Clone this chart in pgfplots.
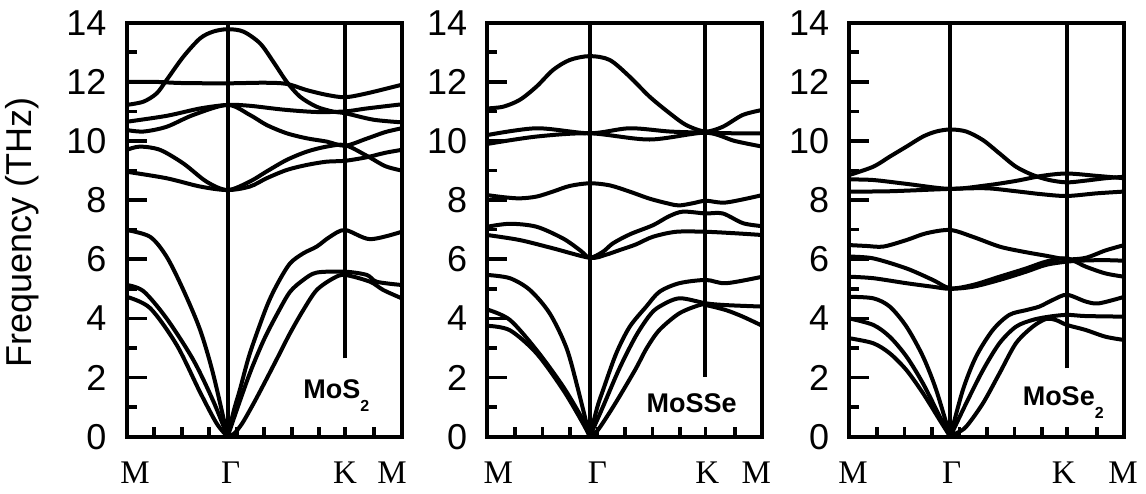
\documentclass[border=0pt]{standalone}
\usepackage{fontspec}
\setmainfont{Liberation Sans}
\newfontfamily\seriffont{Liberation Serif}
\usepackage{pgfplots}
\pgfplotsset{compat=1.18}
\pgfplotsset{
  bandax/.style={
    width=275pt, height=414pt, scale only axis, anchor=south west,
    xmin=0, xmax=1, ymin=0, ymax=14, no marks,
    axis line style={line width=4.2pt},
    tick align=inside, tick pos=left,
    ytick={0,2,...,14}, minor ytick={1,3,...,13},
    major tick length=20pt, minor tick length=10pt,
    every tick/.style={black, line width=3.6pt},
    major x tick style={draw=none, opacity=0},
    /pgf/number format/assume math mode=true,
    yticklabel style={font=\fontsize{36}{36}\selectfont, anchor=east, inner sep=0pt, xshift=-20pt},
    xticklabel style={font=\seriffont\fontsize{33}{33}\selectfont, anchor=base, inner sep=0pt, yshift=-46.6pt},
    xticklabels={M,Γ,K,M},
    every axis plot post/.append style={black, solid, line width=4pt, smooth, line join=round},
  },
}
\tikzset{lab/.style={anchor=base west, inner sep=0pt, font=\bfseries\fontsize{27}{27}\selectfont}}
\newcommand{\subtwo}{\raisebox{-13pt}{\fontsize{16}{16}\selectfont 2}}
\begin{document}
\begin{tikzpicture}
\path[use as bounding box] (0,0) rectangle (1146pt,493pt);
% ---------------- MoS2 ----------------
\begin{axis}[bandax, at={(126.7pt,56.3pt)},
  xtick={0.03,0.378,0.794,0.965},
  minor xtick={0.1,0.2,0.3,0.4,0.5,0.6,0.7,0.794,0.9},
  ylabel={Frequency (THz)},
  ylabel style={font=\fontsize{36}{36}\selectfont, at={(axis description cs:-0.381,0.494)}, anchor=center}]
\addplot coordinates {(0.367,0) (0.367,14)};
\addplot coordinates {(0.794,2.65) (0.794,14)};
% optical
\addplot coordinates {(0,11.22) (0.061,11.33) (0.109,11.61) (0.145,12.06) (0.206,12.85) (0.267,13.47) (0.315,13.70) (0.367,13.78) (0.424,13.70) (0.485,13.30) (0.533,12.68) (0.582,12.0) (0.63,11.5) (0.69,11.16) (0.752,10.99) (0.794,10.94) (0.897,10.72) (1,10.63)};
\addplot coordinates {(0,12.0) (0.1,12.0) (0.2,11.96) (0.367,11.95) (0.5,11.97) (0.582,11.93) (0.655,11.72) (0.727,11.56) (0.794,11.48) (0.873,11.61) (1,11.9)};
\addplot coordinates {(0,10.65) (0.145,10.85) (0.267,11.1) (0.367,11.22) (0.448,11.19) (0.57,11.06) (0.69,10.98) (0.794,11.0) (0.873,11.1) (1,11.24)};
\addplot coordinates {(0,10.37) (0.061,10.32) (0.145,10.48) (0.242,10.88) (0.367,11.22) (0.448,10.88) (0.509,10.54) (0.582,10.26) (0.655,10.09) (0.727,9.98) (0.794,9.84) (0.873,10.08) (0.94,10.3) (1,10.43)};
\addplot coordinates {(0,9.7) (0.048,9.81) (0.121,9.7) (0.206,9.24) (0.291,8.62) (0.367,8.34) (0.448,8.63) (0.509,8.97) (0.582,9.36) (0.655,9.64) (0.727,9.81) (0.794,9.86) (0.873,9.5) (0.94,9.15) (1,9.0)};
\addplot coordinates {(0,8.96) (0.145,8.74) (0.267,8.46) (0.367,8.34) (0.448,8.46) (0.509,8.74) (0.582,9.02) (0.655,9.19) (0.727,9.3) (0.794,9.33) (0.873,9.45) (0.94,9.6) (1,9.7)};
% acoustic
\addplot coordinates {(0,6.99) (0.085,6.76) (0.145,6.09) (0.206,4.96) (0.267,3.61) (0.315,2.1) (0.367,0)};
\addplot coordinates {(0.367,0) (0.39,0.9) (0.412,1.6) (0.448,2.82) (0.509,4.4) (0.55,5.2) (0.594,5.86) (0.642,6.2) (0.691,6.43) (0.739,6.76) (0.794,6.99) (0.885,6.68) (1,6.93)};
\addplot coordinates {(0,5.13) (0.061,4.92) (0.145,4.0) (0.242,2.6) (0.315,1.2) (0.367,0)};
\addplot coordinates {(0.367,0) (0.40,0.9) (0.45,2.2) (0.5,3.3) (0.55,4.2) (0.594,4.9) (0.642,5.3) (0.691,5.55) (0.794,5.58) (0.873,5.47) (0.909,5.24) (1,5.13)};
\addplot coordinates {(0,4.73) (0.085,4.35) (0.182,3.1) (0.267,1.5) (0.327,0.45) (0.367,0)};
\addplot coordinates {(0.367,0) (0.39,0.1) (0.42,0.45) (0.46,1.1) (0.5,1.8) (0.55,2.7) (0.594,3.5) (0.642,4.28) (0.691,4.96) (0.752,5.36) (0.794,5.47) (0.885,5.24) (0.933,4.96) (1,4.68)};
\node[lab] at (axis cs:0.642,1.30) {MoS\subtwo};
\end{axis}
% ---------------- MoSSe ----------------
\begin{axis}[bandax, at={(487.3pt,56.3pt)},
  xtick={0.04,0.4,0.8,0.978},
  minor xtick={0.1,0.2,0.3,0.4,0.5,0.6,0.7,0.793,0.9}]
\addplot coordinates {(0.3725,0) (0.3725,14)};
\addplot coordinates {(0.793,2.03) (0.793,14)};
% optical
\addplot coordinates {(0,11.1) (0.058,11.16) (0.118,11.39) (0.179,11.84) (0.239,12.4) (0.3,12.74) (0.3725,12.87) (0.445,12.74) (0.517,12.18) (0.59,11.5) (0.663,10.94) (0.723,10.54) (0.793,10.32) (0.856,10.48) (0.929,10.88) (1,11.05)};
\addplot coordinates {(0,10.2) (0.179,10.43) (0.3725,10.26) (0.517,10.43) (0.663,10.32) (0.793,10.28) (0.9,10.26) (1,10.26)};
\addplot coordinates {(0,9.9) (0.179,10.15) (0.3725,10.26) (0.59,10.05) (0.793,10.28) (0.9,10.0) (1,9.81)};
\addplot coordinates {(0,8.17) (0.058,8.1) (0.118,8.06) (0.179,8.12) (0.239,8.29) (0.3,8.48) (0.3725,8.57) (0.445,8.5) (0.517,8.29) (0.59,8.05) (0.66,7.88) (0.698,7.82) (0.75,7.9) (0.795,7.98) (0.868,7.92) (1,8.17)};
\addplot coordinates {(0,7.1) (0.082,7.2) (0.179,7.1) (0.276,6.7) (0.338,6.3) (0.3725,6.05) (0.42,6.25) (0.457,6.54) (0.52,6.85) (0.602,7.15) (0.66,7.45) (0.711,7.61) (0.793,7.55) (0.856,7.55) (0.93,7.22) (1,7.12)};
\addplot coordinates {(0,6.82) (0.118,6.65) (0.239,6.37) (0.3725,6.05) (0.43,6.15) (0.481,6.31) (0.54,6.5) (0.602,6.76) (0.687,6.93) (0.793,6.93) (0.9,6.88) (1,6.82)};
% acoustic
\addplot coordinates {(0,5.47) (0.082,5.36) (0.155,4.96) (0.227,4.17) (0.288,3.0) (0.33,1.6) (0.3725,0)};
\addplot coordinates {(0.3725,0) (0.40,1.0) (0.421,1.58) (0.469,2.82) (0.518,3.72) (0.578,4.4) (0.626,4.9) (0.698,5.19) (0.795,5.3) (0.868,5.19) (1,5.41)};
\addplot coordinates {(0,4.3) (0.082,3.95) (0.179,2.93) (0.276,1.69) (0.348,0.56) (0.3725,0)};
\addplot coordinates {(0.3725,0) (0.42,1.0) (0.48,2.3) (0.54,3.4) (0.59,4.1) (0.626,4.4) (0.698,4.68) (0.795,4.51) (0.868,4.45) (1,4.4)};
\addplot coordinates {(0,3.75) (0.082,3.6) (0.179,2.82) (0.276,1.58) (0.348,0.45) (0.3725,0)};
\addplot coordinates {(0.3725,0) (0.40,0.2) (0.44,0.75) (0.48,1.35) (0.54,2.3) (0.58,3.0) (0.626,3.61) (0.698,4.17) (0.771,4.45) (0.795,4.45) (0.868,4.28) (0.929,4.06) (1,3.75)};
\node[lab] at (axis cs:0.579,0.81) {MoSSe};
\end{axis}
% ---------------- MoSe2 ----------------
\begin{axis}[bandax, at={(849.3pt,56.3pt)},
  xtick={0.014,0.372,0.78,0.995},
  minor xtick={0.1,0.2,0.3,0.4,0.5,0.6,0.7,0.791,0.9}]
\addplot coordinates {(0.367,0) (0.367,14)};
\addplot coordinates {(0.791,2.31) (0.791,14)};
% optical
\addplot coordinates {(0,8.85) (0.087,9.13) (0.147,9.47) (0.208,9.81) (0.268,10.15) (0.316,10.32) (0.367,10.39) (0.425,10.32) (0.486,10.03) (0.546,9.58) (0.606,9.13) (0.667,8.85) (0.727,8.68) (0.791,8.6) (0.86,8.66) (0.932,8.74) (1,8.79)};
\addplot coordinates {(0,8.7) (0.087,8.68) (0.208,8.55) (0.367,8.38) (0.5,8.5) (0.606,8.65) (0.7,8.82) (0.791,8.9) (0.9,8.82) (1,8.74)};
\addplot coordinates {(0,8.29) (0.147,8.3) (0.367,8.38) (0.5,8.4) (0.606,8.3) (0.7,8.2) (0.791,8.14) (0.9,8.23) (1,8.29)};
\addplot coordinates {(0,6.48) (0.063,6.45) (0.124,6.43) (0.208,6.65) (0.28,6.88) (0.367,6.99) (0.449,6.76) (0.546,6.43) (0.63,6.26) (0.715,6.12) (0.791,6.0) (0.86,6.05) (0.932,6.3) (1,6.48)};
\addplot coordinates {(0,6.09) (0.087,6.03) (0.208,5.69) (0.304,5.3) (0.367,5.02) (0.449,5.13) (0.546,5.41) (0.643,5.69) (0.715,5.92) (0.791,6.03) (0.86,5.75) (0.932,5.52) (1,5.41)};
\addplot coordinates {(0,5.41) (0.087,5.36) (0.208,5.19) (0.304,5.07) (0.367,5.0) (0.449,5.07) (0.546,5.3) (0.643,5.58) (0.715,5.81) (0.791,5.92) (0.86,5.96) (0.932,5.97) (1,5.95)};
% acoustic
\addplot coordinates {(0,4.73) (0.087,4.68) (0.147,4.4) (0.208,3.72) (0.268,2.71) (0.316,1.58) (0.367,0)};
\addplot coordinates {(0.367,0) (0.413,1.58) (0.461,2.71) (0.522,3.61) (0.582,4.12) (0.643,4.28) (0.691,4.4) (0.739,4.62) (0.791,4.8) (0.86,4.57) (0.908,4.51) (1,4.73)};
\addplot coordinates {(0,4.0) (0.087,3.78) (0.147,3.38) (0.208,2.71) (0.268,1.8) (0.329,0.68) (0.367,0)};
\addplot coordinates {(0.367,0) (0.425,1.13) (0.486,2.25) (0.546,3.16) (0.606,3.72) (0.667,3.95) (0.727,4.06) (0.791,4.12) (0.86,4.08) (1,4.06)};
\addplot coordinates {(0,3.33) (0.087,3.16) (0.147,2.82) (0.208,2.25) (0.268,1.47) (0.329,0.56) (0.367,0)};
\addplot coordinates {(0.367,0) (0.39,0.12) (0.425,0.34) (0.486,1.13) (0.546,2.14) (0.606,3.16) (0.667,3.72) (0.715,3.98) (0.75,3.95) (0.791,3.78) (0.859,3.61) (0.932,3.38) (1,3.27)};
\node[lab] at (axis cs:0.63,1.07) {MoSe\subtwo};
\end{axis}
\end{tikzpicture}
\end{document}
